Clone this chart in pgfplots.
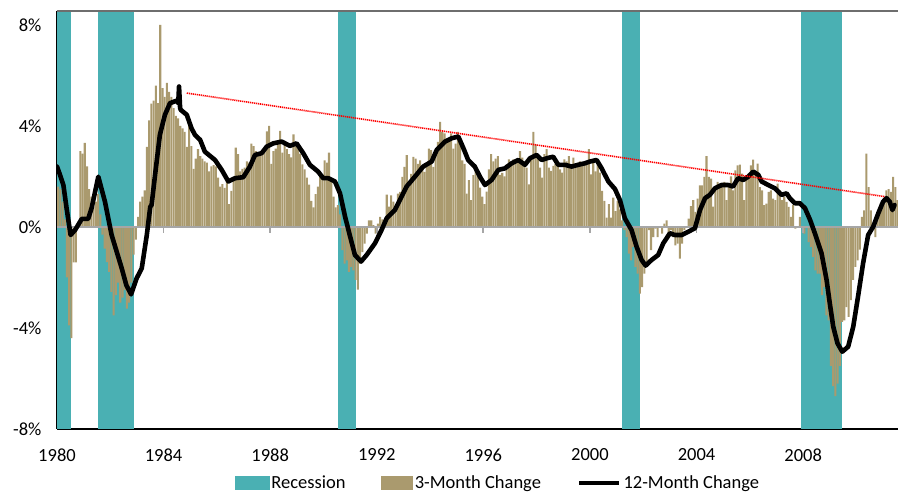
\documentclass[border=0pt]{standalone}
\usepackage{pgfplots}
\pgfplotsset{compat=1.18}
\usepackage{pgfplotstable}
\usepackage{fontspec}
\setmainfont{Carlito}

\definecolor{recess}{RGB}{74,176,179}
\definecolor{chg3}{RGB}{170,154,110}
\definecolor{zerogray}{RGB}{166,166,166}
\definecolor{framegray}{RGB}{110,110,110}

% 3-month change, one row per year, one column per month (%)
\pgfplotstableread{
yr    m0    m1    m2    m3    m4    m5    m6    m7    m8    m9    m10   m11
1980  1.6   1.5   1.0   0.3   -2.0  -3.9  -4.4  -1.4  -1.4  0.2   3.0   2.9
1981  3.33  2.4   1.5   1.2   0.8   1.0   1.3   0.5   -0.3  -0.86 -1.39 -1.78
1982  -2.57 -3.5  -2.7  -2.2  -3.0  -2.8  -2.5  -3.23 -3.0  -2.2  -1.1  -0.5
1983  0.4   1.0   1.2   1.45  3.17  4.22  4.88  5.0   5.6   4.9   8.0   5.5
1984  5.15  5.7   5.35  5.15  4.7   4.4   4.3   4.0   3.9   3.76  3.17  4.0
1985  3.2   2.3   2.7   3.08  2.8   2.7   2.6   2.55  2.2   2.4   2.45  2.4
1986  1.95  1.6   1.7   1.55  1.88  0.9   1.43  1.82  3.14  2.88  2.2   2.3
1987  2.35  2.6   2.55  3.3   3.2   3.0   2.94  2.81  3.0   3.0   3.78  4.0
1988  2.5   3.0   3.1   3.27  3.8   2.94  3.4   3.08  2.88  2.75  3.67  3.27
1989  3.08  2.9   2.48  2.28  1.95  1.68  1.03  0.77  1.3   1.6   2.0   1.9
1990  2.64  2.55  2.94  1.9   1.2   0.77  0.86  0.5   -0.92 -1.45 -1.32 -1.78
1991  -1.58 -1.72 -2.1  -2.48 -1.45 -1.0  -0.66 -0.26 0.26  0.26  0.07  -0.26
1992  0.13  0.4   0.3   0.26  1.28  0.8   1.25  1.0   0.79  1.32  1.39  1.98
1993  2.38  2.84  1.58  2.1   2.77  2.7   2.5   2.64  2.4   2.18  2.38  3.1
1994  3.04  2.38  2.97  3.37  4.16  3.76  3.7   3.5   3.43  3.7   3.1   3.3
1995  3.76  3.5   2.64  2.5   1.32  1.85  1.06  2.05  2.38  1.98  1.56  1.2
1996  0.9   1.4   2.28  2.88  2.6   2.7   2.8   2.06  2.14  2.0   2.48  2.68
1997  2.48  2.68  2.6   2.55  3.0   2.74  2.6   2.35  1.69  2.8   3.76  3.27
1998  2.74  2.35  1.95  2.88  3.08  2.35  2.22  2.42  2.5   2.55  2.28  2.15
1999  2.68  2.6   2.8   2.48  2.74  2.35  2.55  2.6   2.5   2.55  2.55  3.08
2000  2.08  2.68  2.2   2.6   2.15  1.43  1.03  0.37  0.9   0.37  1.16  0.63
2001  1.03  0.7   0.26  -0.13 -0.4  -1.06 -1.32 -0.79 -1.58 -1.85 -2.64 -2.38
2002  -1.85 -1.58 -0.13 -0.92 -0.4  -0.07 -0.4  0.0   -0.26 0.13  0.26  -0.4
2003  -0.13 -0.4  -0.73 -0.66 -1.25 -0.66 -0.13 0.03  0.33  0.82  1.06  0.6
2004  1.12  1.65  1.65  1.98  2.8   1.98  1.91  0.8   1.52  1.78  1.58  1.7
2005  1.78  1.06  1.72  2.0   1.45  2.24  2.44  2.47  2.11  1.06  1.85  2.11
2006  2.44  2.67  2.05  2.51  1.58  1.45  0.86  0.92  1.39  1.45  1.12  1.06
2007  1.72  1.45  1.06  1.19  0.99  0.79  0.4   0.86  -0.07 0.0   0.4   0.0
2008  -0.26 0.0   -0.6  -0.79 -1.19 -1.72 -1.85 -1.85 -2.7  -2.38 -3.5  -3.7
2009  -5.5  -6.3  -6.7  -6.2  -5.5  -3.76 -3.7  -3.17 -3.56 -2.9  -2.1  -1.58
2010  -1.32 -0.9  0.4   0.66  2.9   1.58  0.66  0.1   -0.4  0.4   0.6   0.9
2011  1.06  1.45  1.5   1.39  1.98  1.58  1.06  nan   nan   nan   nan   nan
}\threemonth

\begin{document}
\begin{tikzpicture}
\begin{axis}[
  name=main,
  scale only axis, width=841pt, height=418pt,
  xmin=1980, xmax=2011.56, ymin=-8, ymax=8.55,
  axis lines=left,
  axis line style={black, line width=1.2pt, -},
  xtick={1980,1984,1988,1992,1996,2000,2004,2008},
  xticklabels={1980,1984,1988,1992,1996,2000,2004,2008},
  ytick={-8,-4,0,4,8},
  yticklabels={-8\%,-4\%,0\%,4\%,8\%},
  major tick length=0pt,
  tick label style={font=\fontsize{18.5}{22}\selectfont},
  yticklabel style={xshift=-12pt},
  xticklabel style={yshift=-16pt},
  clip=true,
  legend columns=3,
  legend style={
    draw=none, fill=none,
    font=\fontsize{18.5}{22}\selectfont,
    at={(axis description cs:0.5244,-0.1292)}, anchor=center,
    nodes={inner sep=2pt},
    /tikz/every even column/.append style={column sep=34pt},
  },
]
\addlegendimage{legend image code/.code={\fill[recess] (0pt,-6.5pt) rectangle (34pt,6.5pt);}}
\addlegendimage{legend image code/.code={\fill[chg3] (0pt,-6.5pt) rectangle (31pt,6.5pt);}}
\addlegendimage{legend image code/.code={\draw[black, line width=4.5pt] (0pt,0pt) -- (40pt,0pt);}}
\legend{Recession, 3-Month Change, 12-Month Change}

% recession periods
\addplot[fill=recess, draw=none, forget plot] coordinates {(1980.00,-9) (1980.00,9) (1980.54,9) (1980.54,-9)} -- cycle;
\addplot[fill=recess, draw=none, forget plot] coordinates {(1981.54,-9) (1981.54,9) (1982.88,9) (1982.88,-9)} -- cycle;
\addplot[fill=recess, draw=none, forget plot] coordinates {(1990.54,-9) (1990.54,9) (1991.21,9) (1991.21,-9)} -- cycle;
\addplot[fill=recess, draw=none, forget plot] coordinates {(2001.19,-9) (2001.19,9) (2001.89,9) (2001.89,-9)} -- cycle;
\addplot[fill=recess, draw=none, forget plot] coordinates {(2007.93,-9) (2007.93,9) (2009.47,9) (2009.47,-9)} -- cycle;

% monthly 3-month change bars
\pgfplotsinvokeforeach{0,...,11}{
  \addplot[ybar, bar width=0.078, bar shift=0pt, fill=chg3, draw=none, forget plot]
    table[x expr=\thisrow{yr}+(#1+0.5)/12, y=m#1] {\threemonth};
}

% zero line with its ticks
\draw[zerogray, line width=2pt] (axis cs:1980,0) -- (axis cs:2011.56,0);
\pgfplotsinvokeforeach{1984,1988,1992,1996,2000,2004,2008}{
  \draw[zerogray, line width=1.8pt] (axis cs:#1,0) -- ++(0pt,-6pt);
}

% 12-month change
\addplot[black, line width=4.6pt, line join=round, line cap=round, forget plot] coordinates {
(1980.0,2.39) (1980.1,2.1) (1980.24,1.66) (1980.36,0.74) (1980.51,-0.32) (1980.68,-0.12)
(1980.93,0.32) (1981.17,0.32) (1981.3,0.75) (1981.55,1.99) (1981.8,1.0) (1982.05,-0.32)
(1982.24,-0.98) (1982.43,-1.64) (1982.6,-2.3) (1982.78,-2.67) (1982.99,-2.03) (1983.18,-1.64)
(1983.37,-0.32) (1983.5,0.8) (1983.55,0.87) (1983.68,2.06) (1983.86,3.64) (1984.05,4.44)
(1984.24,4.9) (1984.49,5.0) (1984.55,4.9) (1984.58,5.56) (1984.62,4.7) (1984.65,4.63)
(1984.87,4.44) (1985.05,3.9) (1985.18,3.64) (1985.37,3.45) (1985.55,2.98) (1985.93,2.65)
(1986.18,2.26) (1986.43,1.8) (1986.68,1.93) (1986.99,1.97) (1987.24,2.39) (1987.43,2.85)
(1987.68,2.92) (1987.87,3.18) (1988.12,3.31) (1988.43,3.38) (1988.74,3.21) (1988.99,3.31)
(1989.24,2.92) (1989.49,2.46) (1989.8,2.19) (1989.99,1.93) (1990.18,1.93) (1990.43,1.8)
(1990.62,1.33) (1990.81,0.41) (1991.0,-0.38) (1991.18,-1.11) (1991.41,-1.37) (1991.62,-1.11)
(1991.93,-0.65) (1992.18,-0.12) (1992.37,0.34) (1992.68,0.67) (1992.93,1.2) (1993.12,1.6)
(1993.43,1.99) (1993.74,2.39) (1994.06,2.59) (1994.25,3.05) (1994.56,3.38) (1994.81,3.51)
(1995.06,3.58) (1995.25,3.12) (1995.43,2.65) (1995.68,2.39) (1995.87,1.99) (1996.06,1.66)
(1996.31,1.86) (1996.56,2.26) (1996.81,2.32) (1997.06,2.52) (1997.31,2.65) (1997.56,2.46)
(1997.75,2.72) (1998.0,2.85) (1998.19,2.65) (1998.38,2.72) (1998.62,2.78) (1998.81,2.46)
(1999.06,2.46) (1999.31,2.39) (1999.56,2.46) (1999.81,2.52) (2000.0,2.59) (2000.25,2.65)
(2000.44,2.32) (2000.69,1.8) (2000.94,1.5) (2001.13,1.05) (2001.31,0.34) (2001.56,-0.12)
(2001.75,-0.78) (2001.94,-1.31) (2002.09,-1.53) (2002.31,-1.31) (2002.56,-1.11) (2002.75,-0.65)
(2003.0,-0.25) (2003.19,-0.32) (2003.44,-0.32) (2003.69,-0.19) (2003.94,-0.05) (2004.13,0.67)
(2004.32,1.14) (2004.5,1.27) (2004.69,1.53) (2004.94,1.66) (2005.19,1.66) (2005.37,1.6)
(2005.56,1.93) (2005.75,1.86) (2005.94,1.99) (2006.13,2.19) (2006.32,2.06) (2006.44,1.8)
(2006.69,1.66) (2006.94,1.53) (2007.19,1.27) (2007.38,1.33) (2007.5,1.14) (2007.69,0.94)
(2007.88,0.94) (2008.07,0.74) (2008.26,0.28) (2008.44,-0.25) (2008.69,-1.04) (2008.88,-2.1)
(2009.0,-3.02) (2009.13,-3.95) (2009.29,-4.61) (2009.47,-4.94) (2009.69,-4.74) (2009.88,-3.95)
(2010.06,-2.76) (2010.25,-1.44) (2010.44,-0.32) (2010.63,0.01) (2010.82,0.54) (2011.0,1.0)
(2011.13,1.14) (2011.25,1.0) (2011.35,0.67) (2011.43,0.87)
};

% declining trend of the peaks
\addplot[red, line width=1.6pt, dash pattern=on 1.2pt off 0.8pt, forget plot]
  coordinates {(1984.87,5.3) (2011.07,1.2)};
\end{axis}
\draw[framegray, line width=2pt] (main.north west) -- (main.north east);
\pgfresetboundingbox
\path[use as bounding box] (main.south west) ++(-57pt,-65pt) rectangle ++(898pt,494pt);
\end{tikzpicture}
\end{document}
